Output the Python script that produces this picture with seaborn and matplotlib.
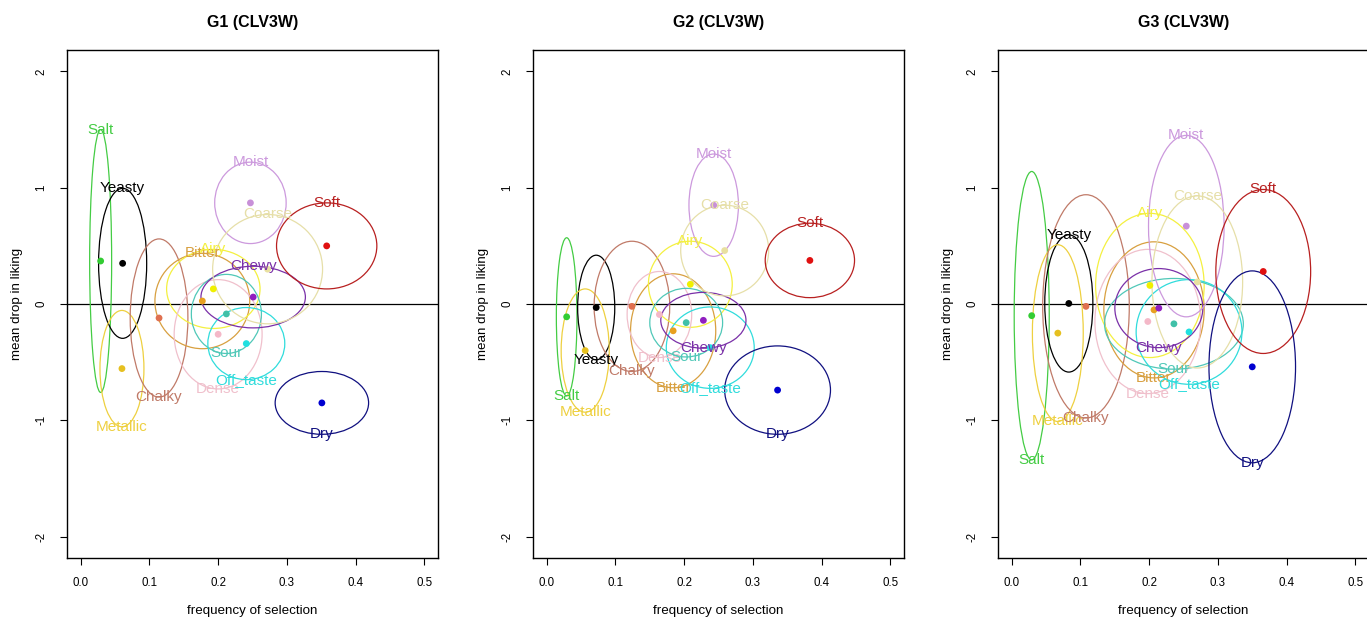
import matplotlib
matplotlib.use("Agg")
import matplotlib.pyplot as plt
from matplotlib.patches import Ellipse
import pandas as pd
import seaborn as sns

# Attributes and their colours (dot colour, ellipse/label colour)
attributes = ["Salt", "Yeasty", "Metallic", "Chalky", "Bitter", "Airy", "Dense",
              "Sour", "Off_taste", "Chewy", "Moist", "Coarse", "Soft", "Dry"]
point_colors = ["#33cc33", "#000000", "#e6c020", "#e07050", "#e8a020", "#f0f000",
                "#f4b8c8", "#40c0a8", "#20e0e0", "#9020c0", "#c890d8", "#e8e0a0",
                "#e01010", "#0000d0"]
line_colors = ["#44cc44", "#000000", "#eed040", "#c07a68", "#d8a040", "#f4f040",
               "#f0c0cc", "#50c8b8", "#30dcdc", "#7a30a8", "#cc99dd", "#e6dfa8",
               "#b82020", "#101080"]

# G1: frequency of selection, mean drop in liking, ellipse half-widths
g1_freq = [0.029, 0.061, 0.060, 0.114, 0.177, 0.193, 0.200, 0.212, 0.241, 0.251, 0.247, 0.272, 0.358, 0.351]
g1_drop = [0.37, 0.35, -0.555, -0.12, 0.026, 0.13, -0.26, -0.085, -0.34, 0.06, 0.87, 0.30, 0.50, -0.85]
g1_rx = [0.016, 0.035, 0.032, 0.042, 0.069, 0.068, 0.064, 0.051, 0.056, 0.076, 0.052, 0.080, 0.073, 0.068]
g1_ry = [1.13, 0.645, 0.50, 0.68, 0.41, 0.34, 0.47, 0.34, 0.31, 0.265, 0.35, 0.47, 0.37, 0.27]

# G2
g2_freq = [0.029, 0.072, 0.056, 0.124, 0.184, 0.209, 0.164, 0.203, 0.238, 0.228, 0.243, 0.259, 0.383, 0.336]
g2_drop = [-0.11, -0.03, -0.40, -0.02, -0.23, 0.17, -0.09, -0.16, -0.375, -0.14, 0.85, 0.46, 0.375, -0.74]
g2_rx = [0.015, 0.027, 0.035, 0.055, 0.062, 0.061, 0.047, 0.053, 0.064, 0.062, 0.036, 0.064, 0.065, 0.077]
g2_ry = [0.68, 0.45, 0.53, 0.56, 0.49, 0.37, 0.37, 0.295, 0.35, 0.24, 0.44, 0.39, 0.32, 0.38]

# G3
g3_freq = [0.029, 0.083, 0.067, 0.108, 0.207, 0.201, 0.198, 0.236, 0.258, 0.214, 0.254, 0.270, 0.366, 0.350]
g3_drop = [-0.10, 0.005, -0.25, -0.02, -0.05, 0.16, -0.15, -0.17, -0.24, -0.035, 0.67, 0.19, 0.28, -0.54]
g3_rx = [0.0255, 0.035, 0.037, 0.063, 0.073, 0.079, 0.077, 0.101, 0.077, 0.064, 0.055, 0.066, 0.069, 0.063]
g3_ry = [1.24, 0.59, 0.76, 0.96, 0.585, 0.62, 0.62, 0.39, 0.45, 0.34, 0.78, 0.74, 0.705, 0.825]

titles = ["G1 (CLV3W)", "G2 (CLV3W)", "G3 (CLV3W)"]
x_ticks = [0.0, 0.1, 0.2, 0.3, 0.4, 0.5]
y_ticks = [-2, -1, 0, 1, 2]

panels = [
    (g1_freq, g1_drop, g1_rx, g1_ry),
    (g2_freq, g2_drop, g2_rx, g2_ry),
    (g3_freq, g3_drop, g3_rx, g3_ry),
]

sns.set_theme(style="white")
plt.rcParams["font.family"] = ["Liberation Sans", "DejaVu Sans"]
plt.rcParams["text.color"] = "black"
plt.rcParams["axes.labelcolor"] = "black"

fig = plt.figure(figsize=(13.67, 6.21), dpi=100)
lefts = [0.049, 0.3899, 0.7301]
palette = dict(zip(attributes, point_colors))

for left, title, (fx, dy, rx, ry) in zip(lefts, titles, panels):
    ax = fig.add_axes([left, 0.1014, 0.2714, 0.818])
    ax.axhline(0, color="black", lw=0.9, zorder=1)

    for i, name in enumerate(attributes):
        ax.add_patch(Ellipse((fx[i], dy[i]), 2 * rx[i], 2 * ry[i], fill=False,
                             ec=line_colors[i], lw=0.9, zorder=2))
    for i, name in enumerate(attributes):
        ly = dy[i] + ry[i] if dy[i] >= 0 else dy[i] - ry[i]
        ax.text(fx[i], ly, name, color=line_colors[i], ha="center", va="center",
                fontsize=11, zorder=4)

    df = pd.DataFrame({"attribute": attributes, "freq": fx, "drop": dy})
    sns.scatterplot(data=df, x="freq", y="drop", hue="attribute", palette=palette,
                    s=24, edgecolor="none", legend=False, ax=ax, zorder=3)

    ax.set_xlim(-0.02, 0.52)
    ax.set_ylim(-2.184, 2.184)
    ax.set_xticks(x_ticks)
    ax.set_xticklabels([f"{t:.1f}" for t in x_ticks])
    ax.set_yticks(y_ticks)
    ax.set_yticklabels([str(t) for t in y_ticks], rotation=90, va="center")
    ax.tick_params(direction="out", length=5, width=0.8, labelsize=8.3,
                   colors="black", pad=9, bottom=True, left=True)
    for sp in ax.spines.values():
        sp.set_color("black")
        sp.set_linewidth(1.0)

    ax.set_xlabel("frequency of selection", fontsize=9.6, color="black")
    ax.set_ylabel("mean drop in liking", fontsize=9.6, color="black")
    ax.xaxis.set_label_coords(0.5, -0.104)
    ax.xaxis.label.set_verticalalignment("center")
    ax.yaxis.set_label_coords(-0.135, 0.5)
    ax.yaxis.label.set_verticalalignment("center")

    ax.text(0.5, 1.055, title, transform=ax.transAxes, ha="center", va="center",
            fontsize=11.5, fontweight="bold", color="black")

fig.savefig("out.png", dpi=100, facecolor="white")
